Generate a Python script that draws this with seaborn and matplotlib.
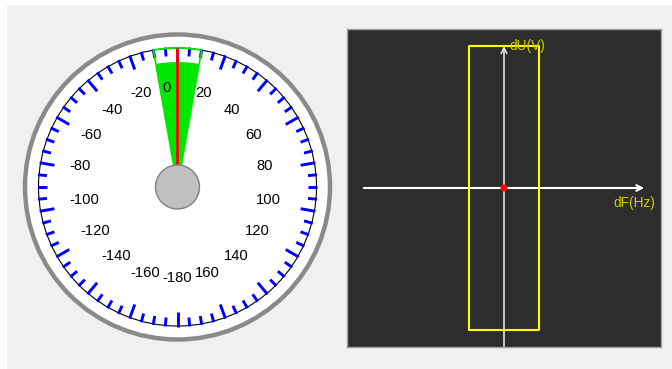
import numpy as np
import matplotlib
matplotlib.use("Agg")
import matplotlib.pyplot as plt
import seaborn as sns
from matplotlib.patches import Circle, Wedge, Rectangle
from matplotlib.collections import LineCollection

# ---------------- data ----------------
# phase gauge (degrees, clockwise from top)
scale_values = ["0", "20", "40", "60", "80", "100", "120", "140", "160",
                "-180", "-160", "-140", "-120", "-100", "-80", "-60", "-40", "-20"]
scale_angles = [0, 20, 40, 60, 80, 100, 120, 140, 160,
                180, 200, 220, 240, 260, 280, 300, 320, 340]
minor_angles = list(range(0, 360, 5))
needle_angle = 0
green_band = [-10, 10]

# dF / dU window
df_limits = [-0.5, 0.5]     # Hz
du_limits = [-10.0, 10.0]   # V
df_axis = [-2.0, 2.0]
du_axis = [-11.2, 10.0]
df_view = [-2.24, 2.24]
du_view = [-11.2, 11.2]
point_df = [0.0]
point_du = [0.0]

# ---------------- figure ----------------
W, H = 672, 369
sns.set_theme(style="white")
plt.rcParams['font.family'] = ['Liberation Sans', 'DejaVu Sans']

fig = plt.figure(figsize=(W / 100, H / 100), dpi=100)
fig.patch.set_facecolor('white')

bg = fig.add_axes([0, 0, 1, 1])
bg.set_xlim(0, W)
bg.set_ylim(H, 0)
bg.axis('off')
bg.add_patch(Rectangle((7, 5), W - 7, H - 5, facecolor='#f0f0f0', edgecolor='none'))


def px_axes(x0, y0, x1, y1):
    return fig.add_axes([x0 / W, 1 - y1 / H, (x1 - x0) / W, (y1 - y0) / H])


# ---------------- gauge ----------------
cx, cy, R = 177.5, 187, 160
g = px_axes(cx - R, cy - R, cx + R, cy + R)
g.set_xlim(-R, R)
g.set_ylim(-R, R)
g.axis('off')

g.add_patch(Circle((0, 0), 152.5, facecolor='white', edgecolor='#8a8a8a', lw=3.2, zorder=1))

r_scale = 139
segs = []
for a in minor_angles:
    L = 14 if a % 20 == 0 else 8
    t = np.deg2rad(a)
    segs.append([((r_scale + 1) * np.sin(t), (r_scale + 1) * np.cos(t)),
                 ((r_scale - L) * np.sin(t), (r_scale - L) * np.cos(t))])
g.add_collection(LineCollection(segs, colors='#0000ff', linewidths=2.1, zorder=3))
g.add_patch(Circle((0, 0), r_scale, fill=False, edgecolor='black', lw=0.8, zorder=2))

th1, th2 = 90 - green_band[1], 90 - green_band[0]
g.add_patch(Wedge((0, 0), 125, th1, th2, facecolor='#00e600', edgecolor='none', zorder=4))
g.add_patch(Wedge((0, 0), r_scale, th1, th2, fill=False, edgecolor='#00e600', lw=1.2, zorder=4))

tn = np.deg2rad(needle_angle)
g.plot([0, r_scale * np.sin(tn)], [0, r_scale * np.cos(tn)], color='red', lw=2.0, zorder=5,
       solid_capstyle='butt')
g.add_patch(Circle((0, 0), 22, facecolor='#c0c0c0', edgecolor='#808080', lw=1.0, zorder=6))

r_lab = 95
for lab, a in zip(scale_values, scale_angles):
    t = np.deg2rad(a)
    g.text(r_lab * np.sin(t) - 14.8, 95.5 * np.cos(t), lab, ha='left', va='baseline',
           fontsize=10.6, color='black', zorder=7)

# ---------------- dF / dU panel ----------------
p = px_axes(347, 29, 661, 347)
p.set_facecolor('#2d2d2d')
p.set_xlim(*df_view)
p.set_ylim(*du_view)

arrow = dict(arrowstyle='->', shrinkA=0, shrinkB=0, mutation_scale=10)
p.annotate('', xy=(df_axis[1], 0), xytext=(df_axis[0], 0),
           arrowprops=dict(arrow, color='white', lw=1.5), zorder=2)
p.annotate('', xy=(0, du_axis[1]), xytext=(0, du_axis[0]),
           arrowprops=dict(arrow, color='#e0e0e0', lw=1.2), zorder=2)

rect_x = [df_limits[0], df_limits[1], df_limits[1], df_limits[0], df_limits[0]]
rect_y = [du_limits[0], du_limits[0], du_limits[1], du_limits[1], du_limits[0]]
sns.lineplot(x=rect_x, y=rect_y, sort=False, estimator=None, color='#ffff00', lw=1.5, ax=p, zorder=3)
sns.scatterplot(x=point_df, y=point_du, color='red', s=26, edgecolor='none', ax=p, zorder=4)

p.annotate('dU(V)', xy=(0, du_axis[1]), xytext=(3.6, -2.9), textcoords='offset points',
           color='#cccc00', fontsize=9.9, ha='left', va='baseline')
p.annotate('dF(Hz)', xy=(df_axis[1], 0), xytext=(-22.3, -14), textcoords='offset points',
           color='#cccc00', fontsize=9.9, ha='left', va='baseline')

p.set_xlabel('')
p.set_ylabel('')
p.set_xticks([])
p.set_yticks([])
for s in p.spines.values():
    s.set_color('#a0a0a0')
    s.set_linewidth(1)

fig.savefig('out.png', dpi=100, facecolor=fig.get_facecolor())
